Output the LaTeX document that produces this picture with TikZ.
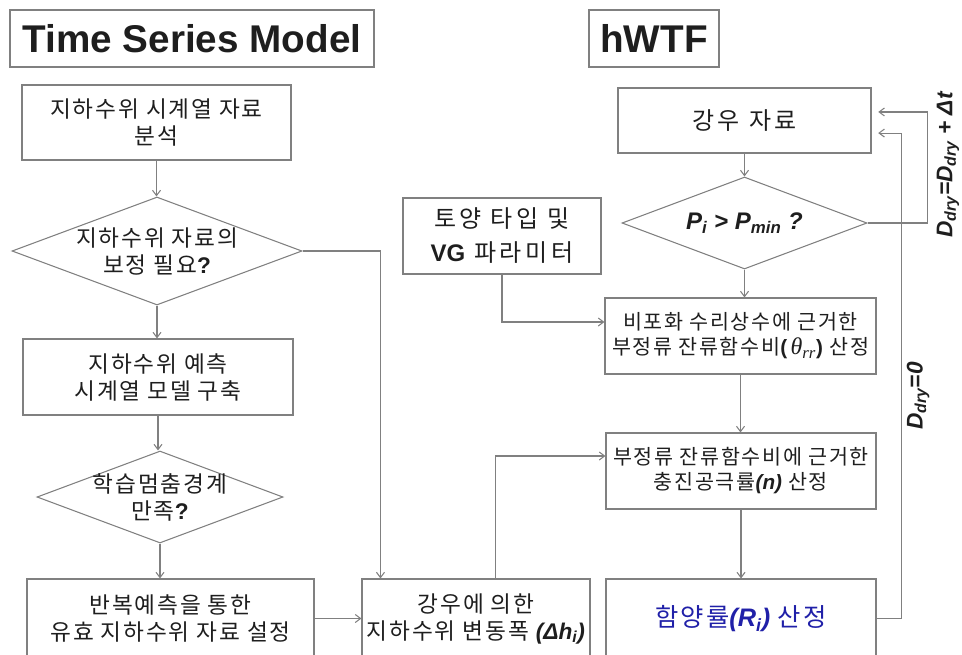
\documentclass[tikz,border=0pt]{standalone}
\usepackage{fontspec}
\setmainfont{Liberation Sans}
\newfontfamily\hangul{Noto Sans CJK KR}
\newfontfamily\greekserif{Liberation Serif}
\usetikzlibrary{shapes.geometric, arrows.meta}

\definecolor{linegray}{RGB}{128,128,128}
\definecolor{textblk}{RGB}{30,30,30}
\definecolor{rechblue}{RGB}{32,32,168}

\newcommand{\bitxt}[1]{{\fontspec{Liberation Sans}\bfseries\itshape #1}}

\tikzset{
  box/.style={draw=linegray, line width=0.8pt, align=center, inner sep=0pt, text=textblk},
  titlebox/.style={box, font=\bfseries\fontsize{29}{34}\selectfont},
  decision/.style={box, shape=diamond, aspect=2.7, inner sep=-5pt},
  arr/.style={draw=linegray, line width=0.8pt, -{Straight Barb[length=4pt,width=6pt]}},
  korL/.style={font=\hangul\addfontfeature{LetterSpace=8}\fontsize{17}{20.25}\selectfont},
  korR/.style={font=\hangul\addfontfeature{LetterSpace=8}\fontsize{15.5}{18.75}\selectfont},
  korB/.style={font=\hangul\addfontfeature{LetterSpace=15}\fontsize{18}{25.5}\selectfont},
  lbl/.style={font=\bfseries\itshape\fontsize{17}{20}\selectfont, rotate=90, inner sep=0pt, text=textblk}
}

\begin{document}
\begin{tikzpicture}[x=0.75pt, y=-0.75pt]
  \useasboundingbox (0,0) rectangle (962,654);

  % titles
  \node[titlebox, minimum width=273pt, minimum height=42.75pt] (tsm) at (192,38.5) {Time Series Model};
  \node[titlebox, minimum width=97.5pt, minimum height=42.75pt] (hwtf) at (654,38.5) {hWTF};

  % time series model column
  \node[box, korL, minimum width=201.75pt, minimum height=56.25pt] (ana) at (156.5,122.5) {지하수위 시계열 자료\\분석};
  \node[decision, korL, minimum width=217.5pt, minimum height=81pt] (corr) at (157,251) {지하수위 자료의\\보정 필요{\fontspec{Liberation Sans}\bfseries ?}};
  \node[box, korL, minimum width=202.5pt, minimum height=57pt] (model) at (158,377) {지하수위 예측\\시계열 모델 구축};
  \node[decision, korL, minimum width=184.5pt, minimum height=69pt] (stop) at (160,497) {학습멈춤경계\\만족{\fontspec{Liberation Sans}\bfseries ?}};
  \node[box, korL, minimum width=215.25pt, minimum height=59.25pt] (valid) at (170.5,618.5) {반복예측을 통한\\유효 지하수위 자료 설정};
  \node[box, korL, minimum width=171pt, minimum height=59.25pt] (dh) at (476,618.5) {강우에 의한\\지하수위 변동폭 \bitxt{(Δh\textsubscript{i})}};

  % hWTF column
  \node[box, korB, minimum width=189.75pt, minimum height=48.75pt] (rain) at (744.5,120.5) {강우 자료};
  \node[decision, minimum width=183.75pt, minimum height=69pt, font=\bfseries\itshape\fontsize{18}{22}\selectfont] (pdec) at (744.5,223) {P\textsubscript{i} > P\textsubscript{min} ?};
  \node[box, korB, minimum width=148.5pt, minimum height=57pt] (soil) at (502,236) {토양 타입 및\\{\fontspec{Liberation Sans}\bfseries VG} 파라미터};
  \node[box, korR, minimum width=203.25pt, minimum height=57pt] (theta) at (740.5,336) {비포화 수리상수에 근거한\\부정류 잔류함수비{\fontspec{Liberation Sans}\bfseries(\,}{\greekserif\itshape\fontsize{18}{18}\selectfont θ\textsubscript{rr}}{\fontspec{Liberation Sans}\bfseries)} 산정};
  \node[box, korR, minimum width=202.5pt, minimum height=57pt] (nbox) at (741,471) {부정류 잔류함수비에 근거한\\충진공극률\bitxt{(n)} 산정};
  \node[box, minimum width=202.5pt, minimum height=59.25pt, text=rechblue, font=\hangul\addfontfeature{LetterSpace=8}\fontsize{19}{23}\selectfont] (rbox) at (741,618.5) {함양률\bitxt{(R\textsubscript{i})} 산정};

  % loop labels
  \node[lbl] (lbldt) at (948,165) {D\textsubscript{dry}=D\textsubscript{dry} + Δt};
  \node[lbl] (lblzero) at (918,396) {D\textsubscript{dry}=0};

  % connectors
  \draw[arr] (ana.south) -- (ana.south |- corr.north);
  \draw[arr] (corr.south) -- (corr.south |- model.north);
  \draw[arr] (model.south) -- (model.south |- stop.north);
  \draw[arr] (stop.south) -- (stop.south |- valid.north);
  \draw[arr] (corr.east) -| ([xshift=14.25pt]dh.north west);
  \draw[arr] (valid.east) -- (dh.west);
  \draw[arr] ([xshift=100.5pt]dh.north west) |- ([yshift=11.25pt]nbox.west);
  \draw[arr] (soil.south) |- ([yshift=10.5pt]theta.west);
  \draw[arr] (rain.south) -- (rain.south |- pdec.north);
  \draw[arr] (pdec.south) -- (pdec.south |- theta.north);
  \draw[arr] (theta.south) -- (theta.south |- nbox.north);
  \draw[arr] (nbox.south) -- (nbox.south |- rbox.north);
  \draw[arr, shorten >=5pt] (pdec.east) -- ++(60,0) |- ([yshift=6.4pt]rain.east);
  \draw[arr, shorten >=5pt] (rbox.east) -- ++(25,0) |- ([yshift=-9.4pt]rain.east);
\end{tikzpicture}
\end{document}
